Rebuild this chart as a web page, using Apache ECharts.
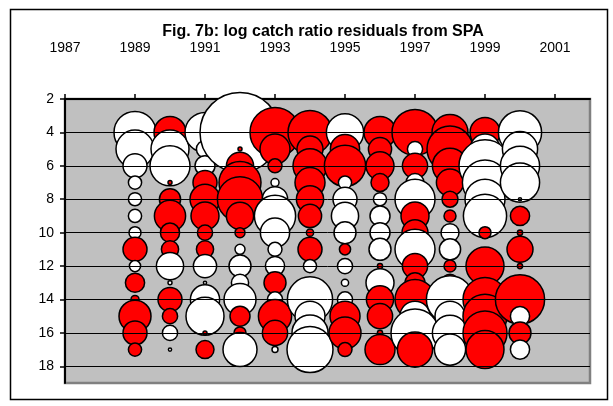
<!DOCTYPE html>
<html>
<head>
<meta charset="utf-8">
<script src="https://cdn.jsdelivr.net/npm/echarts@6/dist/echarts.min.js"></script>
<style>
html,body{margin:0;padding:0;background:#fff}
#chart{width:613px;height:406px}
</style>
</head>
<body>
<div id="chart"></div>
<script>
// years (x) and ages (y) of the residual grid
var years = [1989, 1990, 1991, 1992, 1993, 1994, 1995, 1996, 1997, 1998, 1999, 2000];
var ages = [4, 5, 6, 7, 8, 9, 10, 11, 12, 13, 14, 15, 16, 17];

// log catch ratio residuals, ages 4..17 per year (red = positive, white = negative)
var res1989 = [-1.05, -0.95, -0.6, -0.33, -0.33, -0.33, -0.3, 0.6, -0.28, 0.48, 0.2, 0.8, 0.6, 0.33];
var res1990 = [0.8, -0.95, -1.0, 0.1, 0.53, 0.78, 0.48, 0.43, -0.68, -0.1, 0.6, 0.38, -0.38, -0.08];
var res1991 = [-1.0, -0.43, -0.5, 0.6, 0.75, 0.7, 0.38, 0.43, -0.58, -0.08, -0.73, -0.95, 0.1, 0.45];
var res1992 = [-2.0, 0.1, 0.68, 1.05, 1.13, 0.68, 0.25, -0.25, -0.55, -0.43, -0.8, 0.5, 0.3, -0.85];
var res1993 = [1.25, 0.75, 0.35, -0.2, -0.63, -1.03, -0.73, -0.35, -0.48, 0.55, -0.38, 0.83, 0.63, -0.15];
var res1994 = [1.1, 0.65, 0.85, 0.75, 0.68, 0.58, 0.18, 0.6, -0.33, -0.25, -1.13, -0.75, -0.9, -1.15];
var res1995 = [-0.93, 0.73, 1.03, -0.33, -0.6, -0.68, -0.55, 0.28, -0.38, -0.18, -0.38, 0.75, 0.8, 0.35];
var res1996 = [0.8, 0.58, 0.7, 0.45, -0.33, -0.5, -0.5, -0.55, 0.13, -0.7, 0.68, 0.63, 0.13, 0.75];
var res1997 = [1.15, -0.38, 0.63, -0.45, -1.0, 0.7, 0.65, -1.0, 0.63, 0.5, 1.0, -0.75, -1.2, 0.88];
var res1998 = [0.9, 1.15, 0.88, 0.68, 0.4, 0.3, -0.45, -0.53, 0.3, 0.43, -1.18, -0.75, -0.88, -0.78];
var res1999 = [0.75, -0.75, -1.3, -1.13, -1.0, -1.08, 0.3, 0.08, 0.95, -0.15, 1.1, 1.1, 1.1, 0.95];
var res2000 = [-1.08, -0.88, -0.98, -0.98, -0.08, 0.48, 0.13, 0.65, 0.13, 0.25, 1.23, -0.48, 0.55, -0.48];

// tick labels
var xTicks = [1987, 1989, 1991, 1993, 1995, 1997, 1999, 2001];
var yTicks = [2, 4, 6, 8, 10, 12, 14, 16, 18];

var residuals = [res1989, res1990, res1991, res1992, res1993, res1994,
                 res1995, res1996, res1997, res1998, res1999, res2000];

// year by year, age by age, so later bubbles sit on top like the original
var points = [];
years.forEach(function (yr, i) {
    ages.forEach(function (age, j) {
        points.push([yr, age, residuals[i][j]]);
    });
});

// horizontal gridlines (drawn under the bubbles)
var gridLines = yTicks.slice(1).map(function (v) { return {yAxis: v}; });

var font = 'Liberation Sans, Arial, sans-serif';

var chart = echarts.init(document.getElementById('chart'));
chart.setOption({
    animation: false,
    title: {
        text: 'Fig. 7b: log catch ratio residuals from SPA',
        left: 318,
        top: 19,
        textAlign: 'center',
        textStyle: {fontFamily: font, fontSize: 16, fontWeight: 'bold', color: '#000'}
    },
    graphic: [{
        type: 'rect',
        left: 8, top: 7,
        shape: {x: 0, y: 0, width: 597, height: 390},
        style: {fill: 'none', stroke: '#000', lineWidth: 1.5},
        silent: true
    }],
    grid: {
        left: 65, top: 99, width: 525, height: 284,
        show: true,
        backgroundColor: '#c0c0c0',
        borderColor: '#808080',
        borderWidth: 2.5
    },
    xAxis: {
        type: 'value',
        position: 'top',
        min: 1987, max: 2002, interval: 2,
        axisLine: {show: true, onZero: false, lineStyle: {color: '#000', width: 2}},
        axisTick: {show: true, length: 5, customValues: xTicks, lineStyle: {color: '#000', width: 1.5}},
        axisLabel: {
            customValues: xTicks, margin: 44, color: '#000', fontFamily: font, fontSize: 14,
            formatter: function (v) { return String(v); }
        },
        splitLine: {show: false}
    },
    yAxis: {
        type: 'value',
        inverse: true,
        min: 2, max: 19, interval: 2,
        axisLine: {show: true, onZero: false, lineStyle: {color: '#000', width: 2}},
        axisTick: {show: true, length: 5, customValues: yTicks, lineStyle: {color: '#000', width: 1.5}},
        axisLabel: {customValues: yTicks, margin: 11, color: '#000', fontFamily: font, fontSize: 14},
        splitLine: {show: false}
    },
    series: [{
        type: 'scatter',
        data: [],
        z: 1,
        silent: true,
        markLine: {
            silent: true,
            symbol: ['none', 'none'],
            label: {show: false},
            lineStyle: {color: '#000', width: 1, type: 'solid'},
            emphasis: {disabled: true},
            animation: false,
            data: gridLines
        }
    }, {
        type: 'scatter',
        data: points,
        z: 3,
        clip: false,
        symbol: 'circle',
        symbolSize: function (d) { return Math.abs(d[2]) * 40; },
        itemStyle: {
            color: function (p) { return p.data[2] > 0 ? '#ff0000' : '#ffffff'; },
            borderColor: '#000',
            borderWidth: 1.5,
            opacity: 1
        },
        emphasis: {disabled: true}
    }]
});
</script>
</body>
</html>
